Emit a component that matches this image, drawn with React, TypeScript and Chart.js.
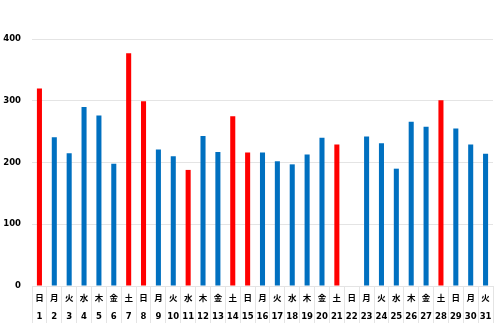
import React, { useEffect, useRef } from "react";
import { Chart, registerables } from "chart.js";

Chart.register(...registerables);

const days = ["1","2","3","4","5","6","7","8","9","10","11","12","13","14","15","16","17","18","19","20","21","22","23","24","25","26","27","28","29","30","31"];
const weekdays = ["日","月","火","水","木","金","土","日","月","火","水","木","金","土","日","月","火","水","木","金","土","日","月","火","水","木","金","土","日","月","火"];
const values = [320,241,215,290,276,198,377,299,221,210,188,243,217,275,216,216,202,197,213,240,229,0,242,231,190,266,258,301,255,229,214];
const redDays = [1,0,0,0,0,0,1,1,0,0,1,0,0,1,1,0,0,0,0,0,1,1,0,0,0,0,0,1,0,0,0];
const yTicks = [0,100,200,300,400];

const RED = "#FF0000";
const BLUE = "#0070C0";
const GRID = "#e4e4e4";
const FONT = "'DejaVu Sans', 'Noto Sans CJK JP', sans-serif";

export default function App() {
  const ref = useRef<HTMLCanvasElement>(null);
  useEffect(() => {
    if (!ref.current) return;
    const chart = new Chart(ref.current, {
      type: "bar",
      data: {
        labels: days.map((d, i) => [weekdays[i], d]),
        datasets: [
          {
            data: values,
            backgroundColor: redDays.map((r) => (r ? RED : BLUE)),
            borderWidth: 0,
            categoryPercentage: 1,
            barPercentage: 0.34,
          },
        ],
      },
      options: {
        animation: false,
        responsive: false,
        maintainAspectRatio: false,
        layout: { padding: { left: 0, right: 8, top: 39, bottom: 0 } },
        plugins: { legend: { display: false }, tooltip: { enabled: false } },
        scales: {
          x: {
            afterFit: (s: any) => { s.height = 40; },
            grid: {
              display: true,
              drawOnChartArea: false,
              drawTicks: true,
              tickLength: 37,
              color: GRID,
              offset: true,
            },
            border: { display: true, color: GRID },
            ticks: {
              padding: -33,
              maxRotation: 0,
              autoSkip: false,
              color: "#000",
              font: { family: FONT, size: 8.5, weight: "bold", lineHeight: "18px" } as any,
            },
          },
          y: {
            min: 0,
            max: 400,
            afterFit: (s: any) => { s.width = 32; },
            afterBuildTicks: (s: any) => { s.ticks = yTicks.map((v) => ({ value: v })); },
            grid: { color: GRID, drawTicks: false, lineWidth: 1 },
            border: { display: false },
            ticks: {
              padding: 11,
              color: "#000",
              font: { family: FONT, size: 8.5, weight: "bold" },
            },
          },
        },
      },
    });
    return () => chart.destroy();
  }, []);
  return (
    <div style={{ position: "fixed", left: 0, top: 0, width: 501, height: 326, background: "#fff" }}>
      <canvas ref={ref} width={501} height={326} style={{ width: 501, height: 326, display: "block" }} />
    </div>
  );
}
